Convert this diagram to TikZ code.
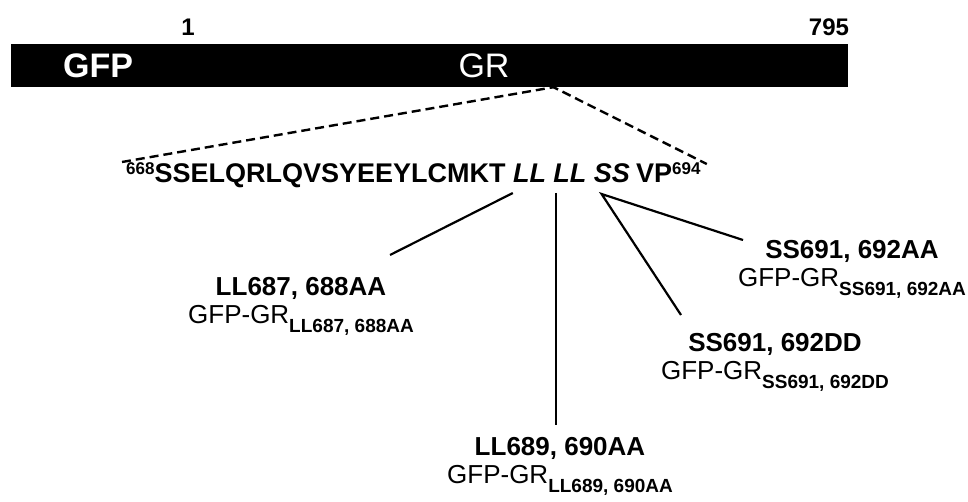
\documentclass[tikz,border=0pt]{standalone}
\usepackage{fontspec}
\setmainfont{Liberation Sans}
\usetikzlibrary{calc,positioning}
\tikzset{
  every node/.style={inner sep=0pt, text=black},
  construct/.style={fill=black, minimum width=837pt, minimum height=43pt},
  domainlabel/.style={text=white, font=\fontsize{34}{34}\selectfont},
  residue/.style={font=\fontsize{24}{24}\selectfont\bfseries},
  seqtext/.style={font=\fontsize{27}{27}\selectfont\bfseries},
  hinge/.style={font=\fontsize{27}{27}\selectfont\bfseries\itshape},
  mutant/.style={align=center, anchor=north, font=\fontsize{26}{28}\selectfont},
  zoomline/.style={line width=2.4pt, dash pattern=on 9pt off 5pt},
  pointer/.style={line width=2.2pt},
}
\newcommand{\gfpgr}[1]{GFP-GR\raisebox{-9pt}{\fontsize{19}{19}\selectfont\bfseries #1}}
\newcommand{\resnum}[1]{\raisebox{8pt}{\fontsize{17}{17}\selectfont #1}}

\begin{document}
\begin{tikzpicture}[x=1pt,y=-1pt]
  \useasboundingbox (0,0) rectangle (968,502);
  % construct: GFP fused to GR
  \node[construct] (bar) at (429.5,65.5) {};
  \node[domainlabel, font=\fontsize{34}{34}\selectfont\bfseries] (gfp) at (98,66) {GFP};
  \node[domainlabel] (gr) at (484,66) {GR};
  \node[residue] (first) at (188,27) {1};
  \node[residue] (last) at (829,27) {795};
  % sequence 668-694
  \node[seqtext, anchor=base west] (seqhead) at (126,183) {\resnum{668}SSELQRLQVSYEEYLCMKT};
  \node[hinge, base right=7pt of seqhead] (llA) {LL};
  \node[hinge, base right=7pt of llA] (llB) {LL};
  \node[hinge, base right=7pt of llB] (ssA) {SS};
  \node[seqtext, base right=6pt of ssA] (vp) {VP\resnum{694}};
  % zoom from bar to sequence
  \coordinate (apex) at ([xshift=124pt]bar.south);
  \draw[zoomline] ([shift={(-4,-21)}]seqhead.base west) -- (apex) -- ([shift={(6,-19)}]vp.base east);
  % mutants
  \node[mutant] (mutA) at (301,277) {\textbf{LL687, 688AA}\\\gfpgr{LL687, 688AA}};
  \node[mutant] (mutB) at (852,240) {\textbf{SS691, 692AA}\\\gfpgr{SS691, 692AA}};
  \node[mutant] (mutC) at (775,333) {\textbf{SS691, 692DD}\\\gfpgr{SS691, 692DD}};
  \node[mutant] (mutD) at (560,437) {\textbf{LL689, 690AA}\\\gfpgr{LL689, 690AA}};
  \coordinate (llAfoot) at ([shift={(0,10)}]llA.base west);
  \coordinate (llBfoot) at ([shift={(3,10)}]llB.base west);
  \coordinate (ssfoot) at ([shift={(8,11)}]ssA.base west);
  \draw[pointer] (llAfoot) -- ([shift={(89,-22)}]mutA.north);
  \draw[pointer] (llBfoot) -- ($(llBfoot |- mutD.north)+(0,-12)$);
  \draw[pointer] ([shift={(-109,0)}]mutB.north) -- (ssfoot) -- ([shift={(-94,-18)}]mutC.north);
\end{tikzpicture}
\end{document}
